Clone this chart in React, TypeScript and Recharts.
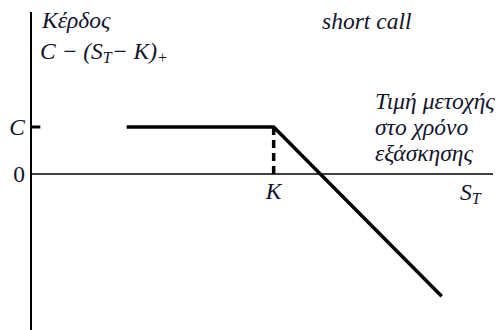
import React from 'react';
import { LineChart, Line, XAxis, YAxis, ReferenceLine, ReferenceDot } from 'recharts';

const C_VALUE = 10;
const K_VALUE = 52;
const prices = [20.5, 52, 88];
const payoffs = [10, 10, -26];
const yTicks = [0, 10];
const yTickLabels: Record<number, string> = { 0: '0', 10: 'C' };

const data = prices.map((s, i) => ({ s, p: payoffs[i] }));

const FONT = 'Liberation Serif';
const INK = '#14142e';
const FS = 23.5;
const SUB = 16;
const textStyle: React.CSSProperties = { fontFamily: FONT, fontSize: FS };

const YTick = (props: any) => {
  const { x, y, payload } = props;
  const label = yTickLabels[payload.value];
  const italic = label === 'C';
  return (
    <text
      x={x + 2}
      y={y}
      dy="0.35em"
      textAnchor="end"
      style={{ ...textStyle, fontStyle: italic ? 'italic' : 'normal' }}
      fill={INK}
    >
      {label}
    </text>
  );
};

const KLabel = (props: any) => {
  const vb = props.viewBox || {};
  const x = (vb.x ?? 0) + (vb.width ?? 0) / 2;
  const y = (vb.y ?? 0) + (vb.height ?? 0) / 2;
  return (
    <text x={x} y={y + 25} textAnchor="middle" style={{ ...textStyle, fontStyle: 'italic' }} fill={INK}>
      K
    </text>
  );
};

export default function App() {
  return (
    <div style={{ position: 'absolute', left: 0, top: 0, width: 497, height: 330, background: '#fff' }}>
      <LineChart width={497} height={330} data={data} margin={{ top: 12, right: 4, bottom: 0, left: 0 }}>
        <XAxis dataKey="s" type="number" domain={[0, 99]} hide allowDataOverflow />
        <YAxis
          type="number"
          domain={[-33.2, 34.47]}
          ticks={yTicks}
          width={31}
          tickLine={false}
          axisLine={{ stroke: '#000', strokeWidth: 2 }}
          tick={<YTick />}
          allowDataOverflow
        />
        <ReferenceLine y={0} stroke="#000" strokeWidth={1.5} />
        <ReferenceLine
          segment={[{ x: 0, y: C_VALUE }, { x: 2, y: C_VALUE }]}
          stroke="#000"
          strokeWidth={3}
        />
        <ReferenceLine
          segment={[{ x: K_VALUE, y: 0 }, { x: K_VALUE, y: C_VALUE }]}
          stroke="#000"
          strokeWidth={3.5}
          strokeDasharray="8 5"
        />
        <ReferenceDot x={K_VALUE} y={0} r={0} fill="none" stroke="none" label={<KLabel />} />
        <Line
          type="linear"
          dataKey="p"
          stroke="#000"
          strokeWidth={3.5}
          dot={false}
          isAnimationActive={false}
        />
      </LineChart>
      <svg width={497} height={330} style={{ position: 'absolute', left: 0, top: 0, pointerEvents: 'none' }}>
        <g style={{ ...textStyle, fontStyle: 'italic' }} fill={INK}>
          <text x={42} y={28}>Κέρδος</text>
          <text x={40} y={59}>
            C − (S<tspan style={{ fontSize: SUB }} dy={4}>T</tspan>
            <tspan dy={-4}>− K)</tspan>
            <tspan style={{ fontSize: SUB }} dy={4}>+</tspan>
          </text>
          <text x={322} y={29}>short call</text>
          <text x={375} y={109}>Τιμή μετοχής</text>
          <text x={375} y={135}>στο χρόνο</text>
          <text x={375} y={161}>εξάσκησης</text>
          <text x={460} y={200}>
            S<tspan style={{ fontSize: SUB }} dy={4}>T</tspan>
          </text>
        </g>
      </svg>
    </div>
  );
}
